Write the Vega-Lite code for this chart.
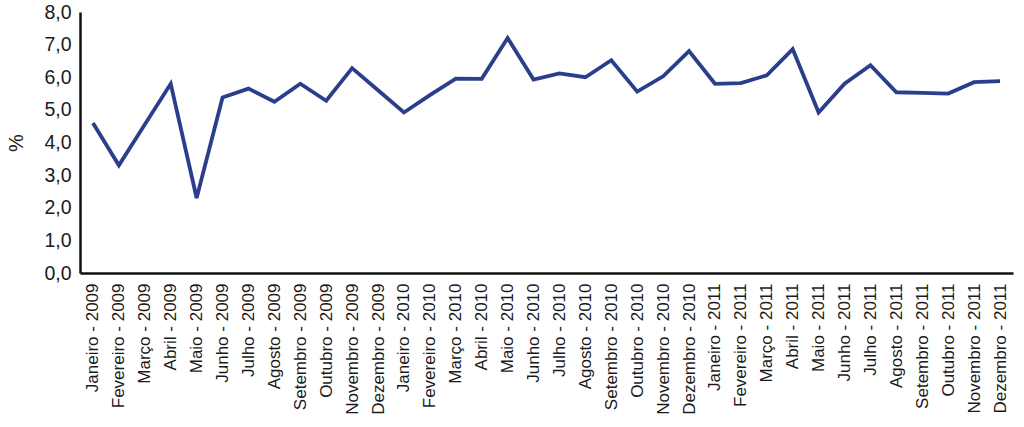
{
  "$schema": "https://vega.github.io/schema/vega-lite/v6.json",
  "autosize": {"type": "none"},
  "width": 933,
  "height": 261,
  "padding": {"left": 80, "top": 12, "right": 11, "bottom": 154},
  "background": "white",
  "config": {"view": {"stroke": null}, "font": "Liberation Sans"},
  "data": {"values": [
    {"mes": "Janeiro - 2009", "v": 4.6},
    {"mes": "Fevereiro - 2009", "v": 3.3},
    {"mes": "Março - 2009", "v": 4.55},
    {"mes": "Abril - 2009", "v": 5.8},
    {"mes": "Maio - 2009", "v": 2.3},
    {"mes": "Junho - 2009", "v": 5.38},
    {"mes": "Julho - 2009", "v": 5.65},
    {"mes": "Agosto - 2009", "v": 5.25},
    {"mes": "Setembro - 2009", "v": 5.8},
    {"mes": "Outubro - 2009", "v": 5.28},
    {"mes": "Novembro - 2009", "v": 6.28},
    {"mes": "Dezembro - 2009", "v": 5.6},
    {"mes": "Janeiro - 2010", "v": 4.92},
    {"mes": "Fevereiro - 2010", "v": 5.45},
    {"mes": "Março - 2010", "v": 5.96},
    {"mes": "Abril - 2010", "v": 5.95},
    {"mes": "Maio - 2010", "v": 7.2},
    {"mes": "Junho - 2010", "v": 5.93},
    {"mes": "Julho - 2010", "v": 6.12},
    {"mes": "Agosto - 2010", "v": 6.0},
    {"mes": "Setembro - 2010", "v": 6.52},
    {"mes": "Outubro - 2010", "v": 5.56},
    {"mes": "Novembro - 2010", "v": 6.03},
    {"mes": "Dezembro - 2010", "v": 6.8},
    {"mes": "Janeiro - 2011", "v": 5.8},
    {"mes": "Fevereiro - 2011", "v": 5.82},
    {"mes": "Março - 2011", "v": 6.06},
    {"mes": "Abril - 2011", "v": 6.86},
    {"mes": "Maio - 2011", "v": 4.92},
    {"mes": "Junho - 2011", "v": 5.8},
    {"mes": "Julho - 2011", "v": 6.37},
    {"mes": "Agosto - 2011", "v": 5.54},
    {"mes": "Setembro - 2011", "v": 5.52},
    {"mes": "Outubro - 2011", "v": 5.5},
    {"mes": "Novembro - 2011", "v": 5.85},
    {"mes": "Dezembro - 2011", "v": 5.88}
  ]},
  "mark": {"type": "line", "color": "#2b3e8c", "strokeWidth": 3.8, "strokeJoin": "miter"},
  "encoding": {
    "x": {
      "field": "mes", "type": "ordinal", "sort": null,
      "scale": {"type": "point", "padding": 0.5},
      "axis": {
        "title": null, "labelAngle": -90, "labelFontSize": 17, "labelColor": "#1a1a1a",
        "ticks": false, "labelPadding": 10, "domainColor": "#111", "domainWidth": 2.5,
        "grid": false
      }
    },
    "y": {
      "field": "v", "type": "quantitative",
      "scale": {"domain": [0, 8], "nice": false},
      "axis": {
        "title": "%", "titleFontSize": 20, "titleFontWeight": "normal", "titleColor": "#1a1a1a",
        "titlePadding": 17,
        "values": [0, 1, 2, 3, 4, 5, 6, 7, 8],
        "labelExpr": "replace(format(datum.value, '.1f'), '.', ',')",
        "labelFontSize": 19.5, "labelColor": "#1a1a1a", "labelPadding": 9,
        "ticks": false, "grid": false, "domainColor": "#111", "domainWidth": 2.5
      }
    }
  }
}
